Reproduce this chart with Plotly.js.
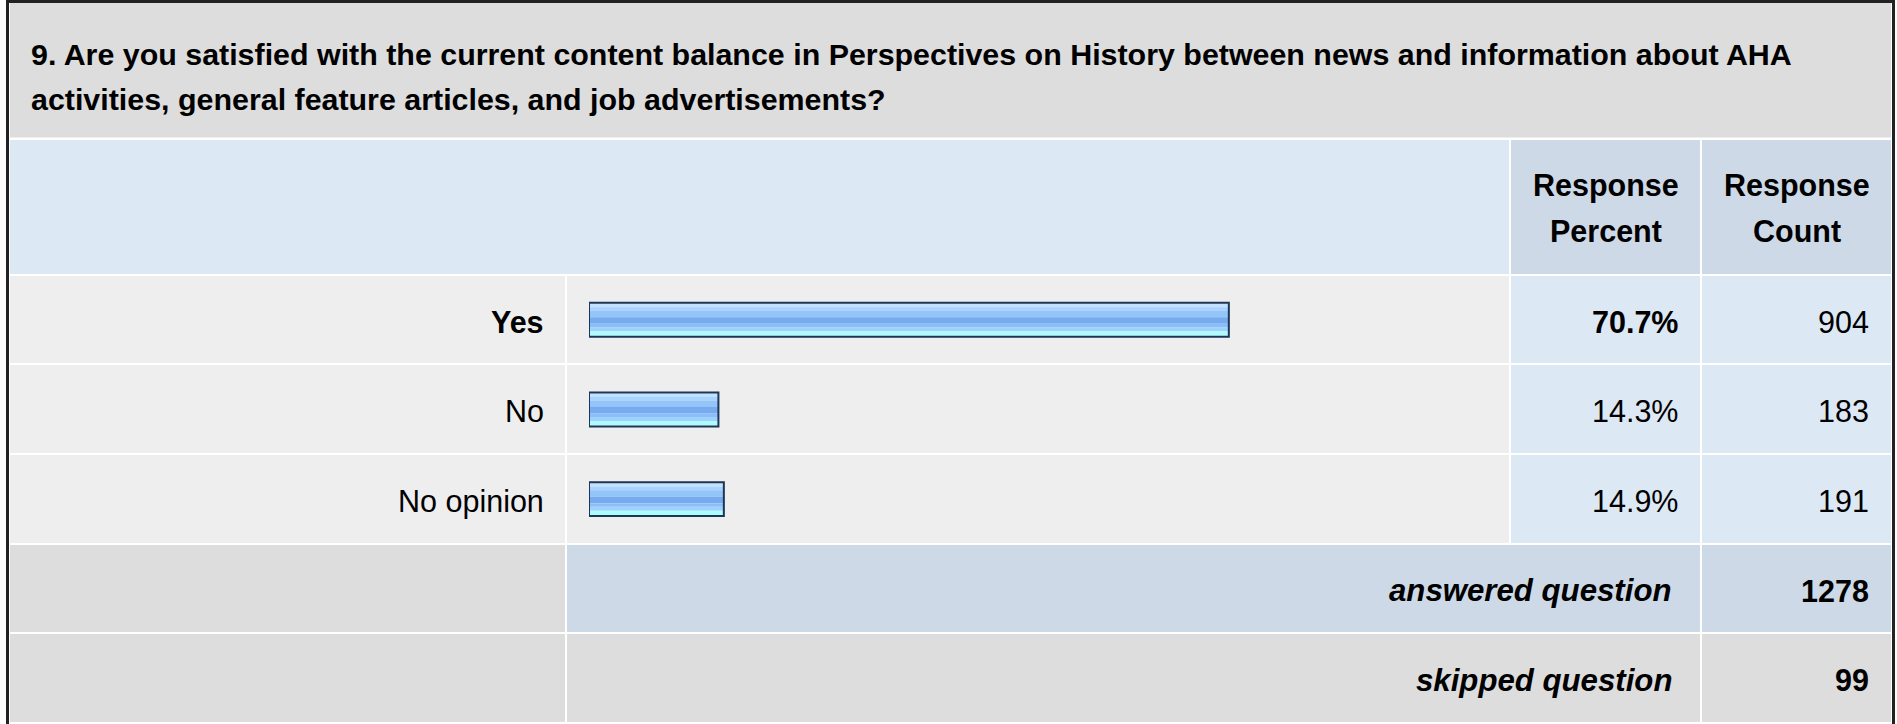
<!DOCTYPE html>
<html>
<head>
<meta charset="utf-8">
<script src="https://cdn.plot.ly/plotly-3.0.1.min.js"></script>
<style>
  html, body { margin: 0; padding: 0; background: #ffffff; }
  #chart { width: 1897px; height: 724px; }
</style>
</head>
<body>
<div id="chart"></div>
<script>
// ---------------- data ----------------
const titleLines = [
  "9. Are you satisfied with the current content balance in Perspectives on History between news and information about AHA",
  "activities, general feature articles, and job advertisements?"
];
const headerPercent = ["Response", "Percent"];
const headerCount = ["Response", "Count"];
const categories = ["Yes", "No", "No opinion"];
const percents = [70.7, 14.3, 14.9];
const counts = [904, 183, 191];
const answeredLabel = "answered question";
const answeredCount = 1278;
const skippedLabel = "skipped question";
const skippedCount = 99;

// ---------------- layout helpers ----------------
const W = 1897, H = 724;
const FONT = "Liberation Sans, Arial, Helvetica, sans-serif";
const FS = 30.5;
const px2x = x => x / W;
const px2y = y => 1 - y / H;

const C_TITLE = "#dddddd";
const C_LIGHTBLUE = "#dde8f5";
const C_MIDBLUE = "#cdd9e6";
const C_ROW = "#eeeeee";
const C_DARK = "#dddddd";
const C_BORDER = "#222222";

function rect(x0, y0, x1, y1, color) {
  return {
    type: "rect", xref: "paper", yref: "paper", layer: "below",
    x0: px2x(x0), x1: px2x(x1), y0: px2y(y1), y1: px2y(y0),
    fillcolor: color, line: { width: 0 }
  };
}

// column edges
const colA = [10, 565], colB = [567, 1509], colC = [1511, 1700], colD = [1702, 1891];
const rowYs = [[276, 363], [365, 453], [455, 543]];
const ansY = [545, 632], skpY = [634, 722];

const shapes = [];
shapes.push(rect(10, 3, 1891, 137.5, C_TITLE));
shapes.push(rect(colA[0], 140, colB[1], 274, C_LIGHTBLUE));
shapes.push(rect(colC[0], 140, colC[1], 274, C_MIDBLUE));
shapes.push(rect(colD[0], 140, colD[1], 274, C_MIDBLUE));
rowYs.forEach(([y0, y1]) => {
  shapes.push(rect(colA[0], y0, colA[1], y1, C_ROW));
  shapes.push(rect(colB[0], y0, colB[1], y1, C_ROW));
  shapes.push(rect(colC[0], y0, colC[1], y1, C_LIGHTBLUE));
  shapes.push(rect(colD[0], y0, colD[1], y1, C_LIGHTBLUE));
});
shapes.push(rect(colA[0], ansY[0], colA[1], ansY[1], C_DARK));
shapes.push(rect(colB[0], ansY[0], colC[1], ansY[1], C_MIDBLUE));
shapes.push(rect(colD[0], ansY[0], colD[1], ansY[1], C_MIDBLUE));
shapes.push(rect(colA[0], skpY[0], colA[1], skpY[1], C_DARK));
shapes.push(rect(colB[0], skpY[0], colC[1], skpY[1], C_DARK));
shapes.push(rect(colD[0], skpY[0], colD[1], skpY[1], C_DARK));
// outer frame
shapes.push(rect(6, 0, 9, 724, C_BORDER));
shapes.push(rect(6, 0, 1895, 3, C_BORDER));
shapes.push(rect(1892, 0, 1895, 724, C_BORDER));

// ---------------- bars (gradient as horizontal bands) ----------------
const U = 89.75; // px per category
const bands = [
  [-16, -12.5, "#c2e0ff"],
  [-12.5, -9, "#a8d2ff"],
  [-9, -2.5, "#93c5fb"],
  [-2.5, 4, "#76acef"],
  [4, 7.5, "#8abef6"],
  [7.5, 11.5, "#9ed1ff"],
  [11.5, 16, "#adfcff"]
];
const traces = bands.map(b => ({
  type: "bar", orientation: "h",
  y: categories, x: percents, base: 0,
  offset: b[0] / U, width: (b[1] - b[0]) / U,
  marker: { color: b[2], line: { width: 0 } },
  hoverinfo: "skip", showlegend: false
}));
traces.push({
  type: "bar", orientation: "h",
  y: categories, x: percents, base: 0,
  offset: -17 / U, width: 34 / U,
  marker: { color: "rgba(0,0,0,0)", line: { width: 2, color: "#1d3557" } },
  hoverinfo: "skip", showlegend: false
});

// ---------------- text ----------------
const maxIdx = percents.indexOf(Math.max(...percents));
const ann = [];
function txt(text, x, y, xanchor, opts = {}) {
  return {
    text: text, x: px2x(x), y: px2y(y), xref: "paper", yref: "paper",
    xanchor: xanchor, yanchor: "middle", showarrow: false,
    font: { family: FONT, size: opts.size || FS, color: "#000000", weight: opts.bold ? "bold" : "normal",
            style: opts.italic ? "italic" : "normal" }
  };
}
ann.push(txt(titleLines[0], 29, 53.5, "left", { bold: true, size: 30.4 }));
ann.push(txt(titleLines[1], 29, 99, "left", { bold: true, size: 30.4 }));
ann.push(txt(headerPercent[0], 1605.5, 186, "center", { bold: true }));
ann.push(txt(headerPercent[1], 1605.5, 231, "center", { bold: true }));
ann.push(txt(headerCount[0], 1796.5, 186, "center", { bold: true }));
ann.push(txt(headerCount[1], 1796.5, 231, "center", { bold: true }));

categories.forEach((c, i) => {
  const bold = i === maxIdx;
  const base = { xref: "paper", yref: "y", y: c, yshift: -2 };
  ann.push(Object.assign(txt(c, 546, 0, "right", { bold }), base));
  ann.push(Object.assign(txt(percents[i].toFixed(1) + "%", 1680, 0, "right", { bold }), base));
  ann.push(Object.assign(txt(String(counts[i]), 1871, 0, "right"), base));
});
ann.push(txt(answeredLabel, 1674, 590.5, "right", { bold: true, italic: true, size: 31.2 }));
ann.push(txt(String(answeredCount), 1871, 590.5, "right", { bold: true }));
ann.push(txt(skippedLabel, 1674, 680, "right", { bold: true, italic: true, size: 31.2 }));
ann.push(txt(String(skippedCount), 1871, 680, "right", { bold: true }));

const layout = {
  width: W, height: H,
  margin: { l: 0, r: 0, t: 0, b: 0, pad: 0 },
  paper_bgcolor: "#ffffff", plot_bgcolor: "rgba(0,0,0,0)",
  barmode: "overlay", showlegend: false,
  xaxis: { domain: [px2x(589), px2x(1494)], range: [0, 100], visible: false, fixedrange: true },
  yaxis: { domain: [px2y(544), px2y(274.75)], type: "category", categoryorder: "array",
           categoryarray: categories, autorange: "reversed", visible: false, fixedrange: true },
  shapes: shapes,
  annotations: ann,
  hovermode: false
};

Plotly.newPlot("chart", traces, layout, { displayModeBar: false, staticPlot: true });
</script>
</body>
</html>
